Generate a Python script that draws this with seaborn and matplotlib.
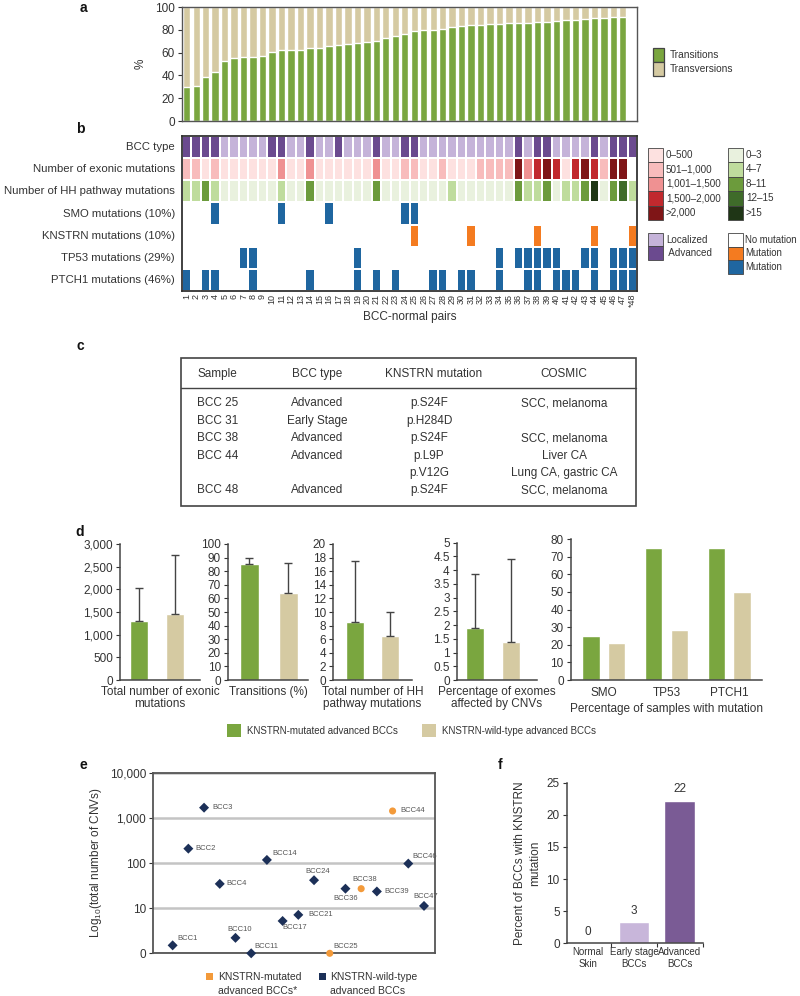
import numpy as np
import pandas as pd
import matplotlib
matplotlib.use("Agg")
import matplotlib.pyplot as plt
from matplotlib.colors import ListedColormap
from matplotlib.patches import Rectangle
from matplotlib.ticker import FuncFormatter, NullLocator
import seaborn as sns

# --- a: transitions per BCC (%), sorted ---
transitions = [29.4, 30.3, 38.8, 43.0, 53.0, 55.0, 56.0, 56.5, 57.4, 60.3,
               62.0, 62.0, 62.6, 63.8, 64.4, 65.9, 66.8, 67.4, 68.8, 69.1,
               70.6, 72.9, 74.4, 76.2, 79.2, 80.0, 80.0, 80.3, 82.4, 83.5,
               83.8, 84.4, 85.0, 85.3, 85.9, 86.2, 86.2, 86.5, 87.0, 87.6,
               88.5, 88.8, 89.4, 90.0, 90.3, 90.9, 91.2]

# --- b: BCC-normal pairs ---
pairs = [str(i) for i in range(1, 48)] + ["*48"]
advanced = [1, 2, 3, 4, 10, 11, 14, 17, 21, 24, 25, 36, 38, 39, 44, 46, 47, 48]
exonic_level = [1, 1, 0, 1, 0, 0, 0, 0, 0, 0, 2, 0, 0, 2, 0, 0, 0, 0, 0, 0,
                2, 0, 0, 1, 1, 0, 0, 1, 0, 0, 0, 1, 1, 1, 1, 4, 2, 3, 4, 3,
                0, 3, 4, 3, 1, 4, 4, None]
hh_level = [1, 1, 2, 1, 0, 0, 0, 0, 0, 0, 1, 0, 0, 2, 0, 0, 0, 0, 0, 0,
            2, 0, 0, 0, 0, 0, 0, 0, 1, 0, 0, 0, 0, 0, 0, 2, 1, 1, 2, 0,
            1, 1, 2, 4, 0, 2, 3, 1]
smo_mut = [4, 11, 16, 24, 25]
knstrn_mut = [25, 31, 38, 44, 48]
tp53_mut = [7, 8, 19, 34, 36, 37, 38, 39, 40, 43, 44, 46, 47, 48]
ptch1_mut = [1, 3, 4, 8, 14, 19, 21, 23, 27, 28, 30, 31, 34, 37, 38, 40,
             41, 42, 44, 46, 47, 48]
row_labels = ["BCC type", "Number of exonic mutations",
              "Number of HH pathway mutations", "SMO mutations (10%)",
              "KNSTRN mutations (10%)", "TP53 mutations (29%)",
              "PTCH1 mutations (46%)"]
exonic_bins = ["0\u2013500", "501\u20131,000", "1,001\u20131,500",
               "1,500\u20132,000", ">2,000"]
hh_bins = ["0\u20133", "4\u20137", "8\u201311", "12\u201315", ">15"]

# --- c: KNSTRN table ---
table_header = ["Sample", "BCC type", "KNSTRN mutation", "COSMIC"]
table_sample = ["BCC 25", "BCC 31", "BCC 38", "BCC 44", "", "BCC 48"]
table_type = ["Advanced", "Early Stage", "Advanced", "Advanced", "", "Advanced"]
table_mutation = ["p.S24F", "p.H284D", "p.S24F", "p.L9P", "p.V12G", "p.S24F"]
table_cosmic = ["SCC, melanoma", "", "SCC, melanoma", "Liver CA",
                "Lung CA, gastric CA", "SCC, melanoma"]

# --- d: mutated vs wild-type advanced BCCs ---
groups_d = ["KNSTRN-mutated advanced BCCs", "KNSTRN-wild-type advanced BCCs"]
exonic_mean, exonic_top = [1300, 1460], [2030, 2750]
trans_mean, trans_top = [85, 64], [90, 86]
hhmut_mean, hhmut_top = [8.5, 6.5], [17.5, 10]
cnvpct_mean, cnvpct_top = [1.88, 1.37], [3.87, 4.41]
genes = ["SMO", "TP53", "PTCH1"]
gene_pct_mut = [25, 75, 75]
gene_pct_wt = [21, 28.5, 50]

# --- e: CNVs per advanced BCC ---
e_samples = ["BCC1", "BCC2", "BCC3", "BCC4", "BCC10", "BCC11", "BCC14",
             "BCC17", "BCC21", "BCC24", "BCC25", "BCC36", "BCC38", "BCC39",
             "BCC44", "BCC46", "BCC47"]
e_cnvs = [1.5, 208, 1680, 34.5, 2.2, 0, 117, 5.2, 7.1, 41.6, 0, 27, 27,
          23.4, 1420, 97, 11.2]
e_mutated = ["BCC25", "BCC38", "BCC44"]

# --- f ---
f_cats = ["Normal\nSkin", "Early stage\nBCCs", "Advanced\nBCCs"]
f_pct = [0, 3.3, 22.2]
f_labels = ["0", "3", "22"]

GREEN = "#7aa63f"
TAN = "#d5caa2"
DARK = "#333333"
BLUE = "#1f66a0"
ORANGE = "#f47b20"
LOC = "#c5b3d9"
ADV = "#6b4a8f"
EXO_COL = ["#fde1e0", "#f8bcbc", "#ef9192", "#c1292e", "#7f1517"]
HH_COL = ["#e9f1de", "#bfdc9d", "#6c9b3c", "#3f6b2a", "#1f3616"]

sns.set_theme(style="white")
plt.rcParams["font.family"] = ["Liberation Sans", "DejaVu Sans"]
plt.rcParams["mathtext.default"] = "regular"
for k in ["text.color", "axes.labelcolor", "xtick.color", "ytick.color"]:
    plt.rcParams[k] = DARK
plt.rcParams["axes.edgecolor"] = "#444444"

W, H = 800, 996
fig = plt.figure(figsize=(W / 100, H / 100), dpi=100)


def px_axes(l, t, r, b):
    return fig.add_axes([l / W, 1 - b / H, (r - l) / W, (b - t) / H])


def style_ticks(ax, size=8.5):
    ax.tick_params(axis="y", which="major", direction="out", length=3,
                   width=0.8, left=True, labelsize=size, pad=2)


# ---------------- a ----------------
ax = px_axes(182, 7, 637, 121)
idx = list(range(len(transitions)))
sns.barplot(x=idx, y=[100] * len(idx), color=TAN, width=0.78, saturation=1, ax=ax)
sns.barplot(x=idx, y=transitions, color=GREEN, width=0.78, saturation=1, ax=ax)
ax.set_xlim(-0.5, 47.5)
ax.set_ylim(0, 100)
ax.set_yticks(range(0, 101, 20))
ax.set_xticks([])
ax.set_xlabel("")
ax.set_ylabel("%", fontsize=8.5, labelpad=6)
style_ticks(ax)
for s in ax.spines.values():
    s.set_linewidth(1.0)
    s.set_color("#555555")

# ---------------- b ----------------
pal = [LOC, ADV] + EXO_COL + HH_COL + ["white", BLUE, ORANGE]
codes = np.full((7, 48), 12.0)
for j, s in enumerate(range(1, 49)):
    codes[0, j] = 1 if s in advanced else 0
    if exonic_level[j] is not None:
        codes[1, j] = 2 + exonic_level[j]
    codes[2, j] = 7 + hh_level[j]
    codes[3, j] = 13 if s in smo_mut else 12
    codes[4, j] = 14 if s in knstrn_mut else 12
    codes[5, j] = 13 if s in tp53_mut else 12
    codes[6, j] = 13 if s in ptch1_mut else 12
heat = pd.DataFrame(codes, index=row_labels, columns=pairs)

ax = px_axes(182, 136, 637, 291)
sns.heatmap(heat, cmap=ListedColormap(pal), vmin=-0.5, vmax=len(pal) - 0.5,
            cbar=False, linewidths=1.4, linecolor="white",
            xticklabels=True, yticklabels=True, ax=ax)
ax.tick_params(axis="y", labelsize=8.2, length=0, pad=5, rotation=0)
ax.tick_params(axis="x", labelsize=6.5, length=0, pad=2, rotation=90)
for s in ax.spines.values():
    s.set_visible(True)
    s.set_linewidth(1.3)
    s.set_color("#333333")
ax.set_xlabel("BCC-normal pairs", fontsize=8.5, labelpad=3)

# overlay for legends, table and panel letters
ov = fig.add_axes([0, 0, 1, 1], zorder=10)
ov.set_xlim(0, W)
ov.set_ylim(H, 0)
ov.axis("off")


def box(x, y, w, h, c, lw=0.6):
    ov.add_patch(Rectangle((x, y), w, h, facecolor=c, edgecolor="#444444", lw=lw))


# a legend
for i, (lab, c) in enumerate(zip(["Transitions", "Transversions"], [GREEN, TAN])):
    y0 = 47.7 + 14.2 * i
    box(652.7, y0, 11.6, 14.2, c, lw=0.9)
    ov.text(670, y0 + 7.1, lab, fontsize=7.3, va="center", ha="left")

# b legend
for i in range(5):
    y0 = 147.7 + 14.5 * i
    box(648, y0, 15, 14.5, EXO_COL[i])
    ov.text(666, y0 + 7.2, exonic_bins[i], fontsize=7.1, va="center")
    box(727.7, y0, 15, 14.5, HH_COL[i])
    ov.text(746, y0 + 7.2, hh_bins[i], fontsize=7.1, va="center")
for i, (lab, c) in enumerate(zip(["Localized", " Advanced"], [LOC, ADV])):
    y0 = 232.7 + 13.7 * i
    box(648, y0, 15, 13.7, c)
    ov.text(666, y0 + 6.8, lab, fontsize=7.1, va="center")
for i, (lab, c) in enumerate(zip(["No mutation", "Mutation", "Mutation"],
                                 ["white", ORANGE, BLUE])):
    y0 = 232.7 + 13.8 * i
    box(727.7, y0, 15, 13.8, c)
    ov.text(745, y0 + 6.9, lab, fontsize=6.9, va="center")

# ---------------- c ----------------
ov.add_patch(Rectangle((181, 358), 455, 148, facecolor="none",
                       edgecolor="#444444", lw=1.2))
ov.plot([181, 636], [388, 388], color="#444444", lw=1.0)
ov.text(197, 374, table_header[0], fontsize=8.5, va="center", ha="left")
ov.text(317, 374, table_header[1], fontsize=8.5, va="center", ha="center")
ov.text(434, 374, table_header[2], fontsize=8.5, va="center", ha="center")
ov.text(564, 374, table_header[3], fontsize=8.5, va="center", ha="center")
for i in range(len(table_sample)):
    yy = 403.3 + 17.4 * i
    ov.text(197, yy, table_sample[i], fontsize=8.5, va="center", ha="left")
    ov.text(317, yy, table_type[i], fontsize=8.5, va="center", ha="center")
    ov.text(429, yy, table_mutation[i], fontsize=8.5, va="center", ha="center")
    ov.text(564, yy, table_cosmic[i], fontsize=8.5, va="center", ha="center")

# ---------------- d ----------------
d_specs = [
    ((120, 544, 200, 680), exonic_mean, exonic_top, 3000, 500,
     "Total number of exonic\nmutations", (-0.53, 1.69)),
    ((228, 544, 308, 680), trans_mean, trans_top, 100, 10,
     "Transitions (%)", (-0.55, 1.5)),
    ((333, 544, 412, 680), hhmut_mean, hhmut_top, 20, 2,
     "Total number of HH\npathway mutations", (-0.62, 1.62)),
    ((456.7, 542.7, 537, 680), cnvpct_mean, cnvpct_top, 5, 0.5,
     "Percentage of exomes\naffected by CNVs", (-0.51, 1.72)),
]
for rect, mean, top, ymax, step, xlab, xl in d_specs:
    ax = px_axes(*rect)
    sns.barplot(x=groups_d, y=mean, hue=groups_d, palette=[GREEN, TAN],
                width=0.5, saturation=1, legend=False, ax=ax)
    up = [t - m for t, m in zip(top, mean)]
    ax.errorbar(x=[0, 1], y=mean, yerr=[[0, 0], up], fmt="none",
                ecolor="#444444", elinewidth=1.0, capsize=3, capthick=1.0)
    ax.set_xlim(*xl)
    ax.set_ylim(0, ymax)
    ax.set_yticks(np.arange(0, ymax + step / 2, step))
    ax.yaxis.set_major_formatter(FuncFormatter(
        lambda v, p: f"{v:,.0f}" if v >= 1000 or v == int(v) else f"{v:g}"))
    ax.set_xticks([])
    ax.set_ylabel("")
    ax.set_xlabel(xlab, fontsize=8.5, labelpad=4, linespacing=1.1)
    style_ticks(ax)
    sns.despine(ax=ax)
    for s in ["left", "bottom"]:
        ax.spines[s].set_linewidth(1.1)
        ax.spines[s].set_color("#444444")

d5 = pd.DataFrame({
    "gene": genes * 2,
    "group": [groups_d[0]] * 3 + [groups_d[1]] * 3,
    "pct": gene_pct_mut + gene_pct_wt,
})
ax = px_axes(570.7, 539, 761.7, 680)
sns.barplot(data=d5, x="gene", y="pct", hue="group", palette=[GREEN, TAN],
            width=0.82, gap=0.33, saturation=1, legend=False, ax=ax)
ax.set_xlim(-0.53, 2.52)
ax.set_ylim(0, 80)
ax.set_yticks(range(0, 81, 10))
ax.set_ylabel("")
ax.set_xlabel("Percentage of samples with mutation", fontsize=8.5, labelpad=3)
ax.tick_params(axis="x", length=0, labelsize=8.5, pad=5)
style_ticks(ax)
sns.despine(ax=ax)
for s in ["left", "bottom"]:
    ax.spines[s].set_linewidth(1.1)
    ax.spines[s].set_color("#444444")

# d legend
box(227, 724, 14, 13, GREEN, lw=0)
ov.text(247, 730.5, groups_d[0], fontsize=7, va="center")
box(422, 724, 14, 13, TAN, lw=0)
ov.text(442, 730.5, groups_d[1], fontsize=7, va="center")

# ---------------- e ----------------
e_df = pd.DataFrame({
    "sample": e_samples,
    "cnv": np.maximum(e_cnvs, 1),
    "status": ["mut" if s in e_mutated else "wt" for s in e_samples],
})
ax = px_axes(153, 772.7, 435, 953.3)
ax.set_yscale("log")
ax.grid(axis="y", color="#c4c4c4", lw=1.8, zorder=0)
ax.set_axisbelow(True)
sns.scatterplot(data=e_df, x="sample", y="cnv", hue="status", style="status",
                palette={"mut": "#f39a3a", "wt": "#1c3058"},
                markers={"mut": "o", "wt": "D"}, s=26, edgecolor="none",
                legend=False, clip_on=False, zorder=3, ax=ax)
ax.set_ylim(1, 10000)
ax.set_xlim(-1.25, 16.7)
ax.set_yticks([1, 10, 100, 1000, 10000], labels=["0", "10", "100", "1,000", "10,000"])
ax.yaxis.set_minor_locator(NullLocator())
ax.set_xticks([])
ax.set_xlabel("")
ax.set_ylabel("Log$_{10}$(total number of CNVs)", fontsize=8.5, labelpad=4)
style_ticks(ax)
for s in ax.spines.values():
    s.set_linewidth(1.3)
    s.set_color("#555555")

# label placement (pixels offset, horizontal alignment)
e_label_pos = {
    "BCC1": (5, 7, "left"), "BCC2": (7, 0, "left"), "BCC3": (8, 0, "left"),
    "BCC4": (7, 0, "left"), "BCC10": (4, 8, "center"), "BCC11": (3, 7, "left"),
    "BCC14": (5, 6, "left"), "BCC17": (0, -7, "left"), "BCC21": (10, 0, "left"),
    "BCC24": (4, 9, "center"), "BCC25": (4, 7, "left"), "BCC36": (0, -10, "center"),
    "BCC38": (4, 9, "center"), "BCC39": (8, 0, "left"), "BCC44": (8, 0, "left"),
    "BCC46": (4, 7, "left"), "BCC47": (2, 9, "center"),
}
for i, (s, v) in enumerate(zip(e_df["sample"], e_df["cnv"])):
    dx, dy, ha = e_label_pos[s]
    ax.annotate(s, (i, v), xytext=(dx, dy), textcoords="offset pixels",
                fontsize=5.5, color="#555555", ha=ha, va="center")

# e legend
box(205.7, 973, 7, 7, "#f39a3a", lw=0)
ov.text(218, 976.5, "KNSTRN-mutated", fontsize=7.5, va="center")
ov.text(218, 990.5, "advanced BCCs*", fontsize=7.5, va="center")
box(319, 973, 7, 7, "#1c3058", lw=0)
ov.text(330, 976.5, "KNSTRN-wild-type", fontsize=7.5, va="center")
ov.text(330, 990.5, "advanced BCCs", fontsize=7.5, va="center")

# ---------------- f ----------------
ax = px_axes(566.7, 782.7, 702.7, 943.3)
sns.barplot(x=f_cats, y=f_pct, hue=f_cats, palette=["#c8b6da", "#c8b6da", "#7a5b95"],
            width=0.67, saturation=1, legend=False, ax=ax)
for i, (v, lab) in enumerate(zip(f_pct, f_labels)):
    ax.annotate(lab, (i, v), xytext=(0, 4), textcoords="offset points",
                ha="center", va="bottom", fontsize=8.5)
ax.set_xlim(-0.47, 2.5)
ax.set_ylim(0, 25)
ax.set_yticks(range(0, 26, 5))
ax.set_xticks([0.5, 1.5, 2.5], minor=True)
ax.tick_params(axis="x", which="major", length=0, labelsize=7, pad=3)
ax.tick_params(axis="x", which="minor", direction="out", length=3, width=0.8,
               bottom=True)
ax.set_ylabel("Percent of BCCs with KNSTRN\nmutation", fontsize=8.5,
              labelpad=4, linespacing=1.3)
style_ticks(ax)
sns.despine(ax=ax)
for s in ["left", "bottom"]:
    ax.spines[s].set_linewidth(1.1)
    ax.spines[s].set_color("#444444")

# panel letters
for lab, (x, y) in {"a": (83, 1), "b": (80, 122), "c": (80, 339),
                    "d": (80, 525), "e": (83, 758), "f": (500, 758)}.items():
    ov.text(x, y, lab, fontsize=10, fontweight="bold", va="top", ha="center",
            color="#111111")

fig.savefig("out.png", dpi=100)
